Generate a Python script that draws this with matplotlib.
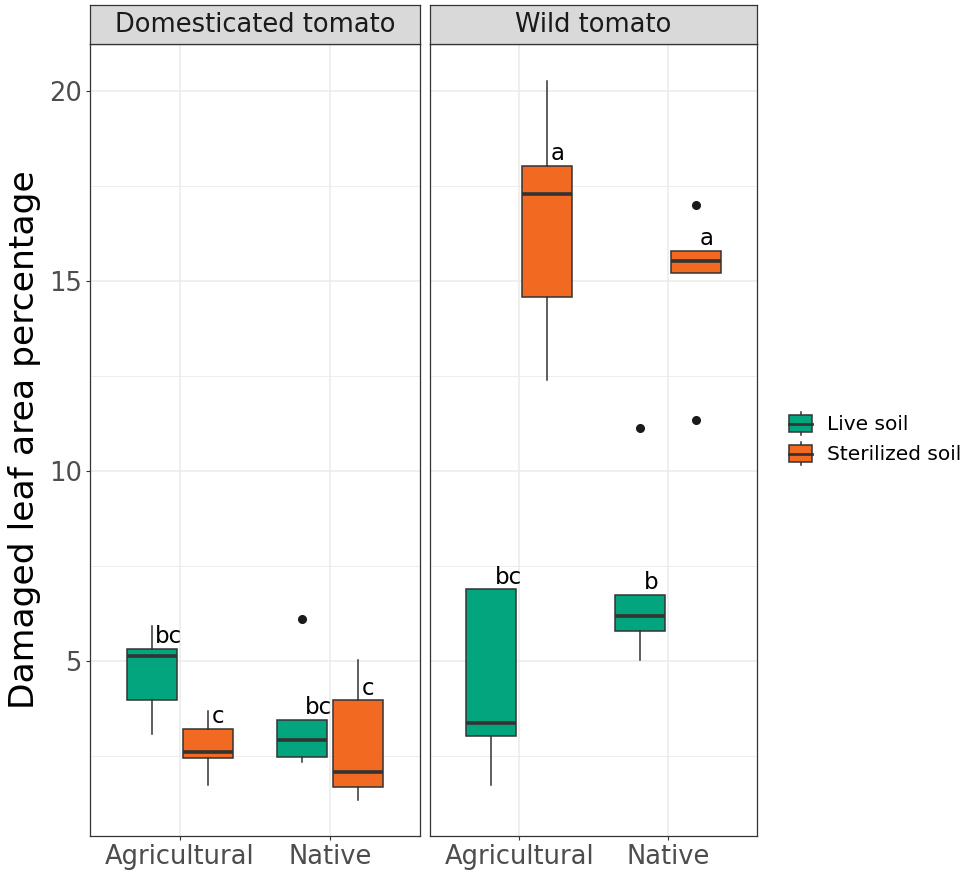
import matplotlib
matplotlib.use('Agg')
import matplotlib.pyplot as plt
from matplotlib.patches import Patch, Rectangle
from matplotlib.lines import Line2D
from matplotlib.legend_handler import HandlerBase

# ============================================ data
species = ['Domesticated tomato', 'Wild tomato']
origins = ['Agricultural', 'Native']
soils = ['Live soil', 'Sterilized soil']
soil_colors = ['#03A57F', '#F26A21']

# order inside each panel: Agri/Live, Agri/Sterilized, Native/Live, Native/Sterilized
whis_low = {'Domesticated tomato': [3.09, 1.74, 2.36, 1.36],
            'Wild tomato':         [1.75, 12.41, 5.04, 15.21]}
q1 = {'Domesticated tomato': [3.99, 2.45, 2.47, 1.69],
      'Wild tomato':         [3.02, 14.58, 5.80, 15.21]}
median = {'Domesticated tomato': [5.13, 2.61, 2.94, 2.08],
          'Wild tomato':         [3.38, 17.29, 6.18, 15.54]}
q3 = {'Domesticated tomato': [5.33, 3.23, 3.46, 3.97],
      'Wild tomato':         [6.89, 18.05, 6.75, 15.80]}
whis_high = {'Domesticated tomato': [5.93, 3.70, 3.46, 5.04],
             'Wild tomato':         [6.89, 20.28, 6.75, 15.80]}
outliers = {'Domesticated tomato': [[], [], [6.11], []],
            'Wild tomato':         [[], [], [11.13], [17.01, 11.34]]}
letters = {'Domesticated tomato': ['bc', 'c', 'bc', 'c'],
           'Wild tomato':         ['bc', 'a', 'b', 'a']}

# ============================================ layout
W, H = 972, 876
fig = plt.figure(figsize=(W / 100, H / 100), dpi=100)

def px_axes(x0, y0, x1, y1):
    return fig.add_axes([x0 / W, 1 - y1 / H, (x1 - x0) / W, (y1 - y0) / H])

edge = '#333333'
grid_col = '#EBEBEB'
panels = [(90, 420), (430, 757)]
box_w = 0.3375
dodge = 0.1875

for k, sp in enumerate(species):
    x0, x1 = panels[k]
    ax = px_axes(x0, 44, x1, 836)
    ax.set_xlim(0.4, 2.6)
    ax.set_ylim(0.4, 21.25)

    stats = []
    positions = []
    for i in range(4):
        o = i // 2
        s = i % 2
        positions.append(o + 1 + (dodge if s else -dodge))
        stats.append(dict(whislo=whis_low[sp][i], q1=q1[sp][i], med=median[sp][i],
                          q3=q3[sp][i], whishi=whis_high[sp][i], fliers=outliers[sp][i]))
    bp = ax.bxp(stats, positions=positions, widths=box_w, patch_artist=True,
                showcaps=False, manage_ticks=False,
                boxprops=dict(edgecolor=edge, linewidth=1.1),
                whiskerprops=dict(color=edge, linewidth=1.1),
                medianprops=dict(color=edge, linewidth=2.6, solid_capstyle='butt'),
                flierprops=dict(marker='o', markerfacecolor='#1A1A1A',
                                markeredgecolor='#1A1A1A', markersize=5.5))
    for i, patch in enumerate(bp['boxes']):
        patch.set_facecolor(soil_colors[i % 2])
        patch.set_zorder(3)
    for ln in bp['medians'] + bp['whiskers'] + bp['fliers']:
        ln.set_zorder(4)

    # significance letters
    for i in range(4):
        ax.annotate(letters[sp][i], (positions[i], q3[sp][i]), xytext=(2.5, 0.5),
                    textcoords='offset points', ha='left', va='bottom',
                    fontsize=16.5, color='black', zorder=5)

    # grid
    ax.set_yticks([5, 10, 15, 20])
    ax.set_yticks([2.5, 7.5, 12.5, 17.5], minor=True)
    ax.set_xticks([1, 2])
    ax.set_xticklabels(origins)
    ax.grid(True, which='major', color=grid_col, linewidth=1.1, zorder=0)
    ax.grid(True, which='minor', axis='y', color=grid_col, linewidth=0.6, zorder=0)
    ax.set_axisbelow(True)
    ax.tick_params(which='minor', length=0)
    ax.tick_params(which='major', length=3, width=0.8, color=edge,
                   labelcolor='#4D4D4D', labelsize=18.5, pad=3)
    if k > 0:
        ax.tick_params(axis='y', left=False, labelleft=False)
    for sp_ in ax.spines.values():
        sp_.set_color(edge)
        sp_.set_linewidth(0.9)

    # facet strip
    st = px_axes(x0, 5, x1, 44)
    st.set_facecolor('#D9D9D9')
    st.set_xticks([])
    st.set_yticks([])
    for sp_ in st.spines.values():
        sp_.set_color(edge)
        sp_.set_linewidth(0.9)
    st.text(0.5, 0.5, sp, ha='center', va='center', fontsize=18.5,
            color='#1A1A1A', transform=st.transAxes)

fig.text(25 / W, 1 - 440 / H, 'Damaged leaf area percentage', rotation=90,
         ha='center', va='center', fontsize=24.8, color='black')


# ============================================ legend with boxplot keys
class BoxKey(HandlerBase):
    def create_artists(self, legend, orig_handle, xdescent, ydescent,
                       width, height, fontsize, trans):
        cx = -xdescent + width / 2
        cy = -ydescent + height / 2
        bh = 12.0
        rect = Rectangle((-xdescent, cy - bh / 2), width, bh,
                         facecolor=orig_handle.get_facecolor(),
                         edgecolor=edge, linewidth=1.1, transform=trans)
        wl = Line2D([cx, cx], [cy - bh / 2 - 2.5, cy + bh / 2 + 2.5],
                    color=edge, linewidth=1.1, transform=trans)
        med = Line2D([-xdescent, -xdescent + width], [cy, cy],
                     color=edge, linewidth=2.0, transform=trans)
        return [wl, rect, med]


handles = [Patch(facecolor=c) for c in soil_colors]
fig.legend(handles, soils, handler_map={Patch: BoxKey()},
           loc='center left', bbox_to_anchor=(789 / W, 1 - 439 / H),
           frameon=False, fontsize=14.5, handlelength=1.15, handleheight=1.15,
           labelspacing=0.45, handletextpad=0.75, borderaxespad=0, borderpad=0)

plt.savefig('out.png', dpi=100)
